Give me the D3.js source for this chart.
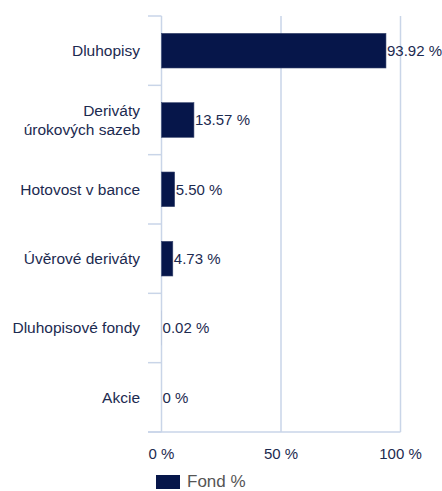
<!DOCTYPE html>
<html>
<head>
<meta charset="utf-8">
<script src="https://cdn.jsdelivr.net/npm/d3@7"></script>
<style>
  html, body { margin: 0; padding: 0; background: #fff; }
  svg { display: block; font-family: "Liberation Sans", Arial, Helvetica, sans-serif; }
</style>
</head>
<body>
<svg id="chart" width="442" height="491"></svg>
<script>
const categories = [
  ["Dluhopisy"],
  ["Deriváty", "úrokových sazeb"],
  ["Hotovost v bance"],
  ["Úvěrové deriváty"],
  ["Dluhopisové fondy"],
  ["Akcie"]
];
const values = [93.92, 13.57, 5.50, 4.73, 0.02, 0];
const valueLabels = ["93.92 %", "13.57 %", "5.50 %", "4.73 %", "0.02 %", "0 %"];
const xTicks = [0, 50, 100];
const xTickLabels = ["0 %", "50 %", "100 %"];
const seriesName = "Fond %";

const barColor = "#06164a";
const gridColor = "#c9d5e8";
const textColor = "#1c2a50";

const svg = d3.select("#chart");
const pLeft = 161.5, pRight = 400.5, pTop = 16, pBottom = 432;

const x = d3.scaleLinear().domain([0, 100]).range([pLeft, pRight]);
const y = d3.scaleBand().domain(d3.range(categories.length)).range([pTop, pBottom])
  .paddingInner(0.5).paddingOuter(0.25);

// gridlines
svg.append("g").selectAll("line").data(xTicks).join("line")
  .attr("x1", d => x(d)).attr("x2", d => x(d))
  .attr("y1", pTop).attr("y2", pBottom)
  .attr("stroke", gridColor).attr("stroke-width", 1.5);

// left category ticks at band boundaries
const step = y.step();
const bounds = d3.range(categories.length + 1).map(i => pTop + i * step);
svg.append("g").selectAll("line").data(bounds).join("line")
  .attr("x1", 148).attr("x2", pLeft)
  .attr("y1", d => d).attr("y2", d => d)
  .attr("stroke", gridColor).attr("stroke-width", 1.5);

// bottom axis line
svg.append("line")
  .attr("x1", 148).attr("x2", pRight)
  .attr("y1", pBottom).attr("y2", pBottom)
  .attr("stroke", gridColor).attr("stroke-width", 1.5);

// bars
svg.append("g").selectAll("rect").data(values).join("rect")
  .attr("x", x(0))
  .attr("y", (d, i) => y(i))
  .attr("width", d => Math.max(0, x(d) - x(0)))
  .attr("height", y.bandwidth())
  .attr("fill", barColor)
  .attr("stroke", d => d > 0.5 ? "#3a4870" : "none")
  .attr("stroke-width", 0.6);

// value labels
svg.append("g").selectAll("text").data(values).join("text")
  .attr("x", d => x(d) + 1)
  .attr("y", (d, i) => y(i) + y.bandwidth() / 2)
  .attr("dy", "0.35em")
  .attr("font-size", "15px")
  .attr("fill", textColor)
  .text((d, i) => valueLabels[i]);

// category labels
const catG = svg.append("g").selectAll("text").data(categories).join("text")
  .attr("x", 140)
  .attr("y", (d, i) => y(i) + y.bandwidth() / 2)
  .attr("text-anchor", "end")
  .attr("font-size", "15.5px")
  .attr("fill", textColor);
catG.each(function(d) {
  const t = d3.select(this);
  const lh = 19;
  const start = -(d.length - 1) * lh / 2;
  d.forEach((line, j) => {
    t.append("tspan").attr("x", 140)
      .attr("dy", j === 0 ? (start / 15.5 + 0.35) + "em" : lh + "px")
      .text(line);
  });
});

// x tick labels
svg.append("g").selectAll("text").data(xTicks).join("text")
  .attr("x", d => x(d))
  .attr("y", 459)
  .attr("text-anchor", "middle")
  .attr("font-size", "15px")
  .attr("fill", textColor)
  .text((d, i) => xTickLabels[i]);

// legend
svg.append("rect").attr("x", 156).attr("y", 475).attr("width", 24).attr("height", 14).attr("fill", barColor);
svg.append("text").attr("x", 187).attr("y", 487)
  .attr("font-size", "17px").attr("fill", "#555")
  .text(seriesName);
</script>
</body>
</html>
